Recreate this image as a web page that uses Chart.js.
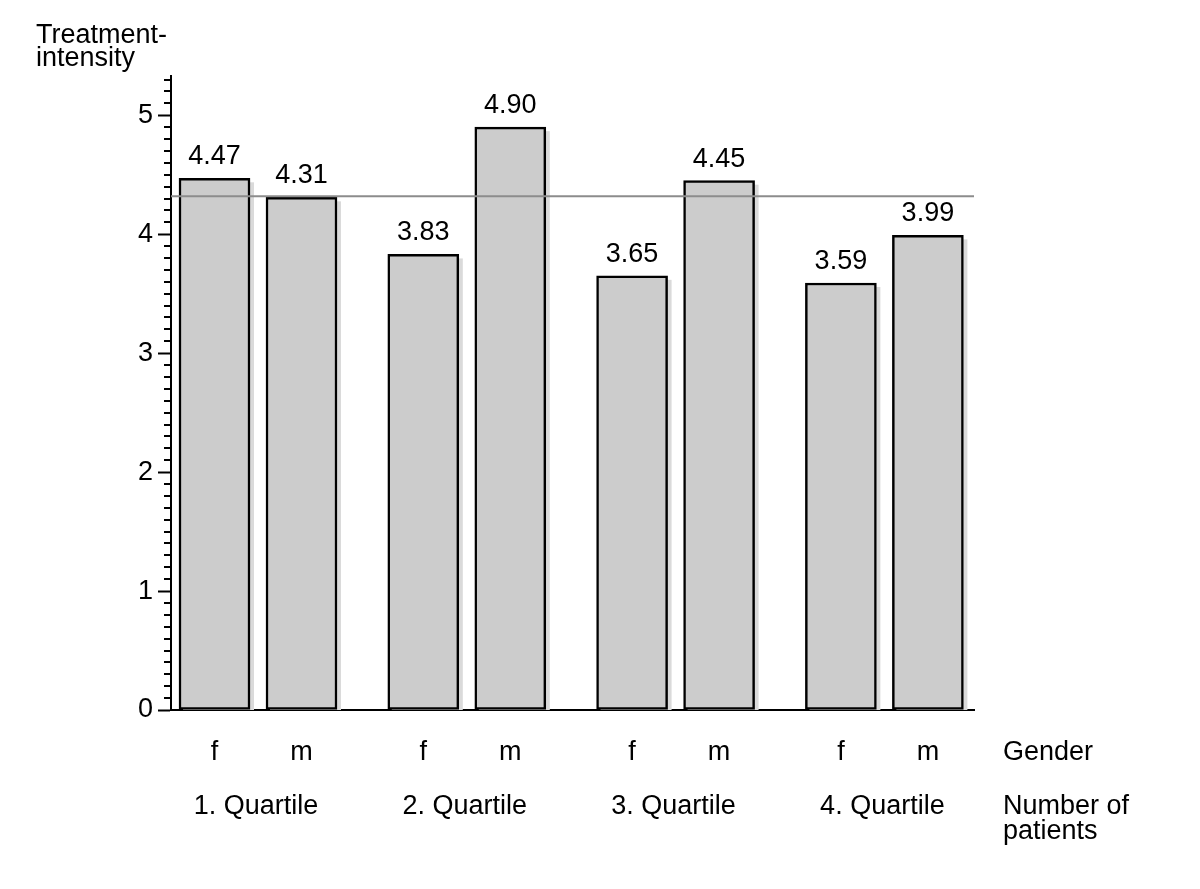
<!DOCTYPE html>
<html lang="en">
<head>
  <meta charset="UTF-8">
  <title>Treatment intensity by quartile and gender</title>
  <script src="https://cdn.jsdelivr.net/npm/chart.js"></script>
  <style>
    body {
      margin: 0;
      background: #ffffff;
      overflow: hidden;
    }
    #wrap {
      width: 1200px;
      height: 889px;
    }
  </style>
</head>
<body>
  <div id="wrap">
    <canvas id="barChart" width="1200" height="889"></canvas>
  </div>

  <script>
    // chart data
    const groups = ['1. Quartile', '2. Quartile', '3. Quartile', '4. Quartile'];
    const genders = ['f', 'm'];
    const femaleValues = [4.47, 3.83, 3.65, 3.59];
    const maleValues = [4.31, 4.90, 4.45, 3.99];
    const meanValue = 4.32;
    const yTicks = [0, 1, 2, 3, 4, 5];
    const yTitle = ['Treatment-', 'intensity'];
    const rowTitles = [['Gender'], ['Number of', 'patients']];

    const FONT_FAMILY = '"Liberation Sans", Arial, sans-serif';
    const FONT = '27px ' + FONT_FAMILY;
    const groupStep = 2.4; // distance between quartile groups, in bar units

    function points(values, offset) {
      return values.map((v, i) => ({ x: i * groupStep + offset, y: v }));
    }

    // light shadow on the right of each bar
    const shadowPlugin = {
      id: 'shadow',
      beforeDatasetsDraw(chart) {
        const ctx = chart.ctx;
        const area = chart.chartArea;
        ctx.save();
        ctx.fillStyle = '#dadada';
        chart.data.datasets.forEach((ds, i) => {
          chart.getDatasetMeta(i).data.forEach(bar => {
            const p = bar.getProps(['x', 'y', 'base', 'width'], true);
            ctx.fillRect(p.x - p.width / 2 + 4, p.y + 4, p.width, area.bottom - p.y - 4);
          });
        });
        ctx.restore();
      }
    };

    // minor ticks, mean line, value labels and all the extra text
    const annotatePlugin = {
      id: 'annotate',
      afterDatasetsDraw(chart) {
        const ctx = chart.ctx;
        const area = chart.chartArea;
        const yScale = chart.scales.y;
        ctx.save();

        // minor ticks every 0.1
        ctx.strokeStyle = '#000';
        ctx.lineWidth = 2;
        for (let k = 1; k <= 53; k++) {
          if (k % 10 === 0) continue;
          const y = Math.round(yScale.getPixelForValue(k / 10));
          ctx.beginPath();
          ctx.moveTo(area.left - 7, y);
          ctx.lineTo(area.left, y);
          ctx.stroke();
        }

        // mean line
        const my = yScale.getPixelForValue(meanValue);
        ctx.strokeStyle = '#8c8c8c';
        ctx.lineWidth = 2;
        ctx.beginPath();
        ctx.moveTo(area.left, my);
        ctx.lineTo(area.right, my);
        ctx.stroke();

        ctx.font = FONT;
        ctx.fillStyle = '#000';
        ctx.textBaseline = 'alphabetic';
        ctx.textAlign = 'center';

        const bars = chart.data.datasets.map((ds, i) => chart.getDatasetMeta(i).data);

        // value labels and gender labels
        chart.data.datasets.forEach((ds, i) => {
          bars[i].forEach((bar, j) => {
            ctx.fillText(ds.data[j].y.toFixed(2), bar.x, bar.y - 14);
            ctx.fillText(genders[i], bar.x, 760);
          });
        });

        // group labels
        groups.forEach((g, j) => {
          const cx = (bars[0][j].x + bars[1][j].x) / 2;
          ctx.fillText(g, cx - 2, 814);
        });

        // row titles on the right
        ctx.textAlign = 'left';
        ctx.fillText(rowTitles[0][0], 1003, 760);
        ctx.fillText(rowTitles[1][0], 1003, 814);
        ctx.fillText(rowTitles[1][1], 1003, 839);

        // y axis title
        ctx.fillText(yTitle[0], 36, 43);
        ctx.fillText(yTitle[1], 36, 66);

        ctx.restore();
      }
    };

    const ctx = document.getElementById('barChart').getContext('2d');
    new Chart(ctx, {
      type: 'bar',
      data: {
        datasets: [
          {
            label: genders[0],
            data: points(femaleValues, 0),
            backgroundColor: '#cccccc',
            borderColor: '#000000',
            borderWidth: 2.5,
            borderSkipped: false,
            barThickness: 71,
            grouped: false
          },
          {
            label: genders[1],
            data: points(maleValues, 1),
            backgroundColor: '#cccccc',
            borderColor: '#000000',
            borderWidth: 2.5,
            borderSkipped: false,
            barThickness: 71,
            grouped: false
          }
        ]
      },
      options: {
        responsive: false,
        animation: false,
        layout: {
          padding: { top: 76, right: 226, left: 0, bottom: 0 }
        },
        plugins: {
          legend: { display: false },
          tooltip: { enabled: false }
        },
        scales: {
          x: {
            type: 'linear',
            offset: false,
            min: -0.5,
            max: 8.73,
            grid: { display: false, offset: false },
            border: { color: '#000', width: 2 },
            ticks: { display: false },
            afterFit(scale) { scale.height = 179; }
          },
          y: {
            min: 0,
            max: 5.33,
            afterBuildTicks(scale) {
              scale.ticks = yTicks.map(v => ({ value: v }));
            },
            ticks: {
              color: '#000',
              font: { family: FONT_FAMILY, size: 27 },
              padding: 5
            },
            grid: {
              drawOnChartArea: false,
              tickLength: 13,
              tickColor: '#000',
              tickWidth: 2
            },
            border: { color: '#000', width: 2 },
            afterFit(scale) { scale.width = 171; }
          }
        }
      },
      plugins: [shadowPlugin, annotatePlugin]
    });
  </script>
</body>
</html>
